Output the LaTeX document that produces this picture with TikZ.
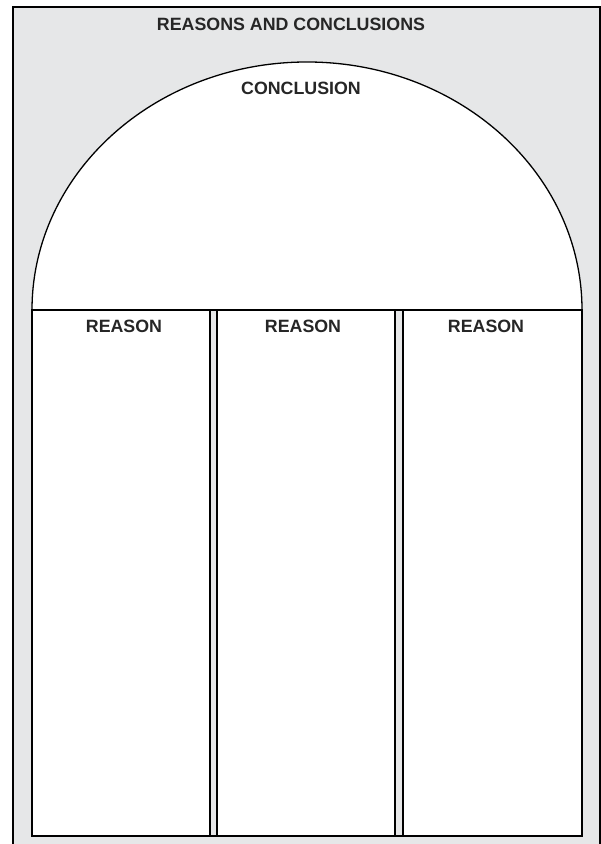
\documentclass[tikz,border=0pt]{standalone}
\usepackage{fontspec}
\setmainfont{Liberation Sans}
\begin{document}
\begin{tikzpicture}[x=1pt, y=1pt, line join=miter, font=\fontsize{17.8}{20}\selectfont\bfseries]
	\definecolor{panelgray}{RGB}{230,231,232}
	\tikzset{label/.style={inner sep=0pt, text=black!85}}
	\def\xl{32} % khung trong
	\def\xr{582}
	\def\yb{8}
	\def\ym{534}
	\useasboundingbox (0,0) rectangle (601,844);
	% khung ngoai
	\fill[panelgray] (13,0) rectangle (600,837);
	\draw[line width=2] (13,0) -- (13,837) -- (600,837) -- (600,0);
	% vom va cac cot
	\filldraw[fill=white, line width=1.3] (\xl,\ym) arc[start angle=180, end angle=0, x radius=275, y radius=248] -- cycle;
	\filldraw[fill=white, line width=1.5] (\xl,\yb) rectangle (\xr,\ym);
	\foreach \a/\b in {210/217, 395/403}
		\filldraw[fill=panelgray, line width=1.5] (\a,\yb) rectangle (\b,\ym);
	\draw[line width=1.5] (\xl,\ym) -- (\xr,\ym);
	\node[label] (title) at (291,820) {REASONS AND CONCLUSIONS};
	\node[label] (concl) at (301,756) {CONCLUSION};
	\node[label] (reasonA) at (124,518) {REASON};
	\node[label] (reasonB) at (303,518) {REASON};
	\node[label] (reasonC) at (486,518) {REASON};
\end{tikzpicture}
\end{document}
